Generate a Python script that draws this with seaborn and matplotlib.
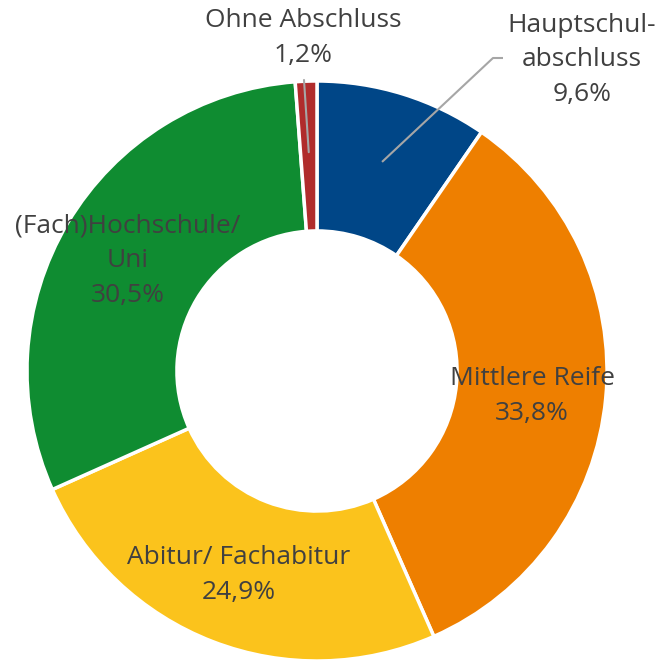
import numpy as np
import seaborn as sns
import matplotlib.pyplot as plt

# Data (clockwise from 12 o'clock)
categories = ['Hauptschul-\nabschluss', 'Mittlere Reife', 'Abitur/ Fachabitur',
              '(Fach)Hochschule/\nUni', 'Ohne Abschluss']
shares = [9.6, 33.8, 24.9, 30.5, 1.2]
colors = ['#004687', '#ee7f00', '#fbc31c', '#0f8c31', '#b02c2c']

sns.set_theme(style='white')
plt.rcParams['font.family'] = ['Open Sans', 'DejaVu Sans']

fig = plt.figure(figsize=(6.64, 6.61), dpi=100)
ax = fig.add_axes([0, 0, 1, 1])

# pixel -> data helper (radius 1 == 290 px, centre at 317/371)
R, CX, CY = 290.0, 317.0, 371.0
def px(x, y):
    return (x - CX) / R, (CY - y) / R

wedges, _ = ax.pie(shares, colors=colors, startangle=90, counterclock=False,
                   radius=1.0, wedgeprops=dict(width=0.517, edgecolor='white', linewidth=2.5))

ax.set_xlim(-CX / R, (664 - CX) / R)
ax.set_ylim(-(661 - CY) / R, CY / R)
ax.set_aspect('equal')
ax.axis('off')

fmt = lambda v: f'{v:.1f}'.replace('.', ',') + '%'
label_pos = [(582, 60), (532, 396), (239, 575), (128, 261), (303, 38)]
txt_color = '#404040'
for lab, val, (lx, ly) in zip(categories, shares, label_pos):
    x, y = px(lx, ly)
    ax.text(x, y, f'{lab}\n{fmt(val)}', ha='center', va='center', fontsize=19,
            color=txt_color, linespacing=1.5)

# leader lines for the small segments
def mid_point(w, r=0.755):
    ang = np.deg2rad((w.theta1 + w.theta2) / 2)
    return r * np.cos(ang), r * np.sin(ang)

x0, y0 = mid_point(wedges[0])
ax.plot([x0, px(493, 58)[0], px(503, 58)[0]], [y0, px(493, 58)[1], px(503, 58)[1]],
        color='#a6a6a6', lw=1.5, solid_capstyle='butt')
x0, y0 = mid_point(wedges[4])
ax.plot([x0, px(304, 80)[0]], [y0, px(304, 80)[1]], color='#a6a6a6', lw=1.5)

fig.savefig('out.png', dpi=100, facecolor='white')
